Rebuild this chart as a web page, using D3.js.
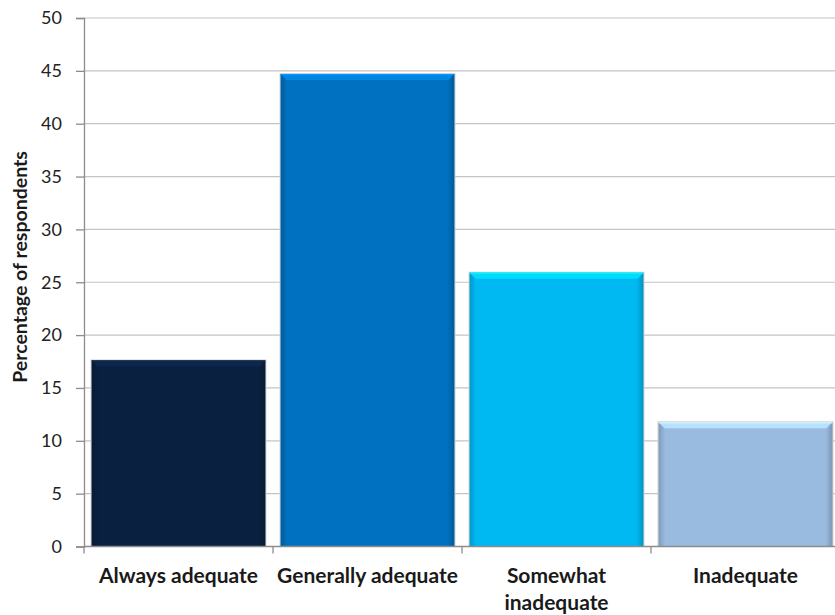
<!DOCTYPE html>
<html><head><meta charset="utf-8">
<script src="https://cdn.jsdelivr.net/npm/d3@7"></script>
<style>body{margin:0;background:#fff}</style>
</head><body><svg id="c" width="835" height="615"></svg>
<script>
const categories = ["Always adequate", "Generally adequate", "Somewhat inadequate", "Inadequate"];
const labelLines = [["Always adequate"], ["Generally adequate"], ["Somewhat", "inadequate"], ["Inadequate"]];
const values = [17.6, 44.7, 25.9, 11.75];
const colors = ["#0a2040", "#0070c0", "#00b8f2", "#9abbe0"];
const yTicks = [0, 5, 10, 15, 20, 25, 30, 35, 40, 45, 50];
const yTitle = "Percentage of respondents";

const svg = d3.select("#c");
const pL = 84, pR = 840, pT = 18, pB = 546.5;
const x = d3.scaleBand().domain(categories).range([pL, pR]).paddingInner(0.08).paddingOuter(0.04);
const y = d3.scaleLinear().domain([0, 50]).range([pB, pT]);

// gridlines
svg.append("g").selectAll("line").data(yTicks).join("line")
  .attr("x1", pL).attr("x2", 835).attr("y1", d => y(d)).attr("y2", d => y(d))
  .attr("stroke", "#c4c4c4").attr("stroke-width", 1.2);

// y axis
const ya = svg.append("g").attr("transform", `translate(${pL},0)`)
  .call(d3.axisLeft(y).tickValues(yTicks).tickSize(8).tickPadding(14));
ya.select(".domain").attr("stroke", "#8c8c8c").attr("stroke-width", 1.3);
ya.selectAll(".tick line").attr("stroke", "#8c8c8c").attr("stroke-width", 1.3);
ya.selectAll("text").attr("font-family", "Lato, sans-serif").attr("font-size", 18).attr("fill", "#222");

// bars with bevel
const defs = svg.append("defs");
const b = 6;
const g = svg.append("g");
categories.forEach((c, i) => {
  const x0 = x(c), w = x.bandwidth(), y0 = y(values[i]), y1 = y(0);
  const col = d3.color(colors[i]);
  const gid = "gr" + i;
  const lg = defs.append("linearGradient").attr("id", gid).attr("x1", 0).attr("x2", 1).attr("y1", 0).attr("y2", 0);
  lg.append("stop").attr("offset", 0).attr("stop-color", col.darker(0.5));
  lg.append("stop").attr("offset", 0.04).attr("stop-color", col);
  lg.append("stop").attr("offset", 0.96).attr("stop-color", col);
  lg.append("stop").attr("offset", 1).attr("stop-color", col.darker(0.6));
  g.append("rect").attr("x", x0 - 1).attr("y", y0 - 1).attr("width", w + 2).attr("height", y1 - y0 + 1)
    .attr("fill", "#d0d0d0");
  g.append("rect").attr("x", x0).attr("y", y0).attr("width", w).attr("height", y1 - y0)
    .attr("fill", `url(#${gid})`);
  g.append("polygon")
    .attr("points", [[x0, y0], [x0 + w, y0], [x0 + w - b, y0 + b], [x0 + b, y0 + b]].map(p => p.join(",")).join(" "))
    .attr("fill", col.brighter(0.5));
  g.append("line").attr("x1", x0).attr("x2", x0 + w).attr("y1", y0 + 0.5).attr("y2", y0 + 0.5)
    .attr("stroke", col.brighter(0.9)).attr("stroke-width", 1);
});

// x axis baseline and ticks
svg.append("line").attr("x1", pL).attr("x2", 835).attr("y1", pB).attr("y2", pB)
  .attr("stroke", "#8c8c8c").attr("stroke-width", 1.3);
const bounds = categories.map(c => x(c) - x.step() * x.paddingInner() / 2);
svg.append("g").selectAll("line").data(bounds).join("line")
  .attr("x1", d => d).attr("x2", d => d).attr("y1", pB).attr("y2", pB + 7)
  .attr("stroke", "#8c8c8c").attr("stroke-width", 1.3);

// category labels
categories.forEach((c, i) => {
  const t = svg.append("text").attr("x", x(c) + x.bandwidth() / 2).attr("y", 583)
    .attr("text-anchor", "middle").attr("font-family", "Lato, sans-serif").attr("font-weight", "bold")
    .attr("font-size", 21).attr("fill", "#1a1a1a");
  labelLines[i].forEach((l, j) => t.append("tspan").attr("x", x(c) + x.bandwidth() / 2).attr("dy", j ? 27 : 0).text(l));
});

// y title
svg.append("text").attr("transform", `translate(27,267) rotate(-90)`)
  .attr("text-anchor", "middle").attr("font-family", "Lato, sans-serif").attr("font-weight", "bold")
  .attr("font-size", 19.5).attr("fill", "#1a1a1a").text(yTitle);
</script></body></html>
